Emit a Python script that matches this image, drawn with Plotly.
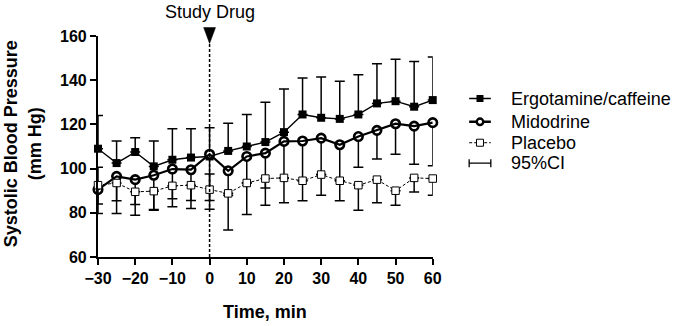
import plotly.graph_objects as go

# ---------------- data ----------------
time_min = [-30, -25, -20, -15, -10, -5, 0, 5, 10, 15, 20, 25, 30, 35, 40, 45, 50, 55, 60]

ergo_mean = [109, 102.5, 107.5, 101, 104, 105, 105.5, 108, 110, 112, 116.5, 124.5, 123, 122.5, 124.5, 129.5, 130.5, 128, 131]
ergo_ci_high = [124, 112.5, 114, 112.5, 118, 118, 118.5, 120.5, 124.5, 130, 136, 141, 141.5, 139.5, 142.5, 147.5, 149.5, 148.5, 150.5]

mido_mean = [90.5, 96.5, 95, 97, 99.8, 99.5, 106.5, 99, 105.5, 107, 112.3, 112.5, 113.8, 110.8, 114.5, 117.3, 120.3, 119.2, 120.8]
mido_ci_low = [79.7, 85.4, 83.7, 81.2, 86.4, 85.6, 85.6, 87.9, 93.5, 91.2, 95.8, 94.5, 97.3, 94.5, 100.6, 104.3, 106.5, 102, 101.3]

plac_mean = [92.5, 93.5, 89.5, 89.8, 92.2, 92.5, 90.5, 88.8, 93.5, 95.5, 95.8, 94.5, 97.3, 94.5, 92.5, 95, 90, 95.8, 95.5]
plac_ci_low = [84, 79.7, 78.9, 81.5, 82.7, 81.9, 81.6, 72.2, 79.2, 83.4, 84.5, 85.5, 87.9, 85.5, 81.2, 84.6, 83.4, 89.4, 87.9]
plac_ci_high = [100.6, 93.5, 89.5, 89.8, 92.2, 92.5, 97.6, 88.8, 93.5, 95.5, 95.8, 94.5, 97.3, 94.5, 92.5, 95, 90, 95.8, 95.5]

series_names = ["Ergotamine/caffeine", "Midodrine", "Placebo", "95%CI"]
drug_time = 0
x_ticks = [-30, -20, -10, 0, 10, 20, 30, 40, 50, 60]
y_ticks = [60, 80, 100, 120, 140, 160]

# ---------------- derived error lengths ----------------
ergo_up = [h - m for h, m in zip(ergo_ci_high, ergo_mean)]
mido_dn = [m - l for l, m in zip(mido_ci_low, mido_mean)]
plac_dn = [m - l for l, m in zip(plac_ci_low, plac_mean)]
plac_up = [h - m for h, m in zip(plac_ci_high, plac_mean)]

FONT = "Liberation Sans, Arial, sans-serif"
BLACK = "black"

W, H = 680, 326
REF_L, REF_R, REF_T, REF_B = 98, 438, 35.5, 257.5   # plot area in window pixels
ML, MT = REF_L, REF_T
MB = H - REF_B
PW = W - ML                            # paper width (right margin 0)
PH = REF_B - REF_T                     # paper height
PLOT_W = REF_R - REF_L                 # main plot width in px

fig = go.Figure()

err_common = dict(color=BLACK, thickness=1.5, width=5)

# Ergotamine/caffeine
fig.add_trace(go.Scatter(
    x=time_min, y=ergo_mean, mode="lines+markers", name=series_names[0],
    line=dict(color=BLACK, width=1.4),
    marker=dict(symbol="square", size=8, color=BLACK),
    error_y=dict(type="data", symmetric=False, array=ergo_up,
                 arrayminus=[0] * len(ergo_up), **err_common),
    cliponaxis=False, showlegend=False))

# Midodrine markers (white-filled, thick ring)
fig.add_trace(go.Scatter(
    x=time_min, y=mido_mean, mode="markers", name=series_names[1],
    marker=dict(symbol="circle", size=8.5, color="white",
                line=dict(color=BLACK, width=2.6)),
    error_y=dict(type="data", symmetric=False, array=[0] * len(mido_dn),
                 arrayminus=mido_dn, **err_common),
    cliponaxis=False, showlegend=False))
# Midodrine connecting line drawn on top
fig.add_trace(go.Scatter(
    x=time_min, y=mido_mean, mode="lines",
    line=dict(color=BLACK, width=2.2),
    cliponaxis=False, showlegend=False, hoverinfo="skip"))

# Placebo
fig.add_trace(go.Scatter(
    x=time_min, y=plac_mean, mode="lines+markers", name=series_names[2],
    line=dict(color=BLACK, width=1, dash="3px,2px"),
    marker=dict(symbol="square", size=7.5, color="white",
                line=dict(color=BLACK, width=1)),
    error_y=dict(type="data", symmetric=False, array=plac_up,
                 arrayminus=plac_dn, **err_common),
    cliponaxis=False, showlegend=False))

# ---------------- legend drawn on a hidden pixel-scaled axis ----------------
leg_rows = [98.3, 121.7, 142.7, 163.3]
gx0, gx1, gxc, tx = 475, 497, 486, 515
leg_styles = [
    dict(line=dict(color=BLACK, width=1.4), marker=dict(symbol="square", size=7, color=BLACK)),
    dict(line=dict(color=BLACK, width=2.4), marker=dict(symbol="circle", size=6.5, color="white",
                                                       line=dict(color=BLACK, width=2.4))),
    dict(line=dict(color=BLACK, width=1, dash="3px,2px"),
         marker=dict(symbol="square", size=7, color="white", line=dict(color=BLACK, width=1))),
]
for i, st in enumerate(leg_styles):
    y = leg_rows[i]
    fig.add_trace(go.Scatter(x=[gx0, gx1], y=[y, y], mode="lines", line=st["line"],
                             xaxis="x2", yaxis="y2", showlegend=False, hoverinfo="skip",
                             cliponaxis=False))
    fig.add_trace(go.Scatter(x=[gxc], y=[y], mode="markers", marker=st["marker"],
                             xaxis="x2", yaxis="y2", showlegend=False, hoverinfo="skip",
                             cliponaxis=False))
fig.add_trace(go.Scatter(x=[gxc], y=[leg_rows[3]], mode="markers",
                         marker=dict(size=1, color="rgba(0,0,0,0)"),
                         error_x=dict(type="constant", value=(gx1 - gx0) / 2,
                                      color=BLACK, thickness=1.3, width=4),
                         xaxis="x2", yaxis="y2", showlegend=False, hoverinfo="skip",
                         cliponaxis=False))
for i, name in enumerate(series_names):
    fig.add_annotation(x=tx, y=leg_rows[i], xref="x2", yref="y2", text=name,
                       showarrow=False, xanchor="left", yanchor="middle",
                       font=dict(family=FONT, size=18, color=BLACK))

# ---------------- study drug marker ----------------
def py(px):
    """window pixel row -> paper y"""
    return (REF_B - px) / PH


def pxp(px):
    """window pixel column -> paper x"""
    return (px - REF_L) / PW


fig.add_shape(type="line", xref="x", yref="y", x0=drug_time, x1=drug_time,
              y0=60, y1=156.4, line=dict(color=BLACK, width=1.5, dash="3px,2px"))
fig.add_shape(type="path", xref="x", yref="paper",
              path=f"M {drug_time - 1.6},{py(27)} L {drug_time + 1.6},{py(27)} L {drug_time},{py(43)} Z",
              fillcolor=BLACK, line=dict(color=BLACK, width=0.5))
fig.add_annotation(x=drug_time, y=py(11), xref="x", yref="paper", text="Study Drug",
                   showarrow=False, xanchor="center", yanchor="middle",
                   font=dict(family=FONT, size=18, color=BLACK))

# ---------------- axis titles ----------------
fig.add_annotation(x=pxp(21), y=py(144), xref="paper", yref="paper",
                   text="Systolic Blood Pressure<br>(mm Hg)", textangle=-90,
                   showarrow=False, xanchor="center", yanchor="middle",
                   font=dict(family=FONT, size=18, color=BLACK, weight="bold"))
fig.add_annotation(x=15, y=py(313), xref="x", yref="paper", text="Time, min",
                   showarrow=False, xanchor="center", yanchor="middle",
                   font=dict(family=FONT, size=18, color=BLACK, weight="bold"))

axis_common = dict(showgrid=False, zeroline=False, showline=True, linecolor=BLACK,
                   linewidth=2.2, ticks="outside", ticklen=6, tickwidth=2,
                   tickcolor=BLACK,
                   tickfont=dict(family=FONT, size=16, color=BLACK, weight="bold"))

fig.update_layout(
    width=W, height=H,
    margin=dict(l=ML, r=0, t=MT, b=MB, pad=0),
    plot_bgcolor="white", paper_bgcolor="white",
    xaxis=dict(domain=[0, PLOT_W / PW], range=[-30, 60], tickvals=x_ticks, anchor="y",
               **axis_common),
    yaxis=dict(domain=[0, 1], range=[60, 160], tickvals=y_ticks, anchor="x",
               **axis_common),
    xaxis2=dict(domain=[pxp(470), 1], range=[470, 680], visible=False,
                anchor="y2", fixedrange=True),
    yaxis2=dict(domain=[0, 1], range=[REF_B, REF_T], visible=False,
                anchor="x2", fixedrange=True),
    showlegend=False,
)

# remove the browser's default 8px body margin so the figure fills the window
fig.write_html("out.html", config={"displayModeBar": False},
               post_script="document.body.style.margin='0px';")
